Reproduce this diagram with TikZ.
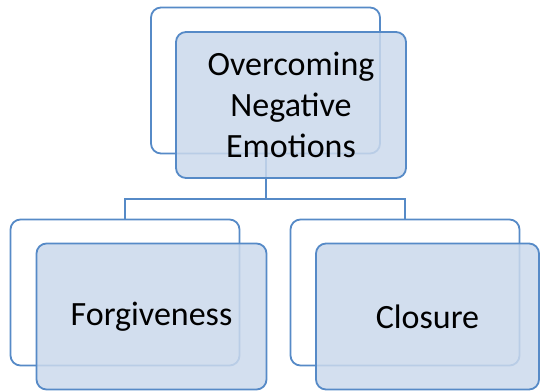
\documentclass[tikz,border=0pt]{standalone}
\usepackage{fontspec}
\setmainfont{Carlito}
\usepackage{tikz}
\usetikzlibrary{calc}

\definecolor{boxLine}{RGB}{86,138,199}
\definecolor{boxFill}{RGB}{203,217,236}

\begin{document}
\begin{tikzpicture}[
		x=1bp, y=-1bp,
		link/.style={draw=boxLine, line width=2bp},
		every node/.style={color=black},
		]
		\tikzset{
			backBox/.style={rectangle, rounded corners=10bp, draw=boxLine, line width=1.8bp, fill=white, minimum width=229bp, minimum height=146bp, inner sep=0pt},
			frontBox/.style={rectangle, rounded corners=10bp, draw=boxLine, line width=1.8bp, fill=boxFill, fill opacity=.85, text opacity=1, minimum width=230bp, minimum height=146bp, inner sep=0pt, align=center, font=\fontsize{34bp}{41bp}\selectfont},
		}
		\useasboundingbox (0,0) rectangle (541,390);
		
		% back cards
		\node[backBox] (topBack) at (265.5,80.5) {};
		\node[backBox] (leftBack) at (125,292.5) {};
		\node[backBox] (rightBack) at (405,292.5) {};
		
		% tree lines
		\draw[link] (topBack.south) -- ++(0,45) coordinate (split) -| (leftBack.north);
		\draw[link] (split) -| (rightBack.north);
		
		% front cards
		\node[frontBox] (emotions) at (291,105) {Overcoming\\Negative\\Emotions};
		\node[frontBox] (forgive) at (151.5,316.5) {Forgiveness};
		\node[frontBox, minimum width=223bp] (closure) at (427.5,316.5) {Closure};
	\end{tikzpicture}
\end{document}
